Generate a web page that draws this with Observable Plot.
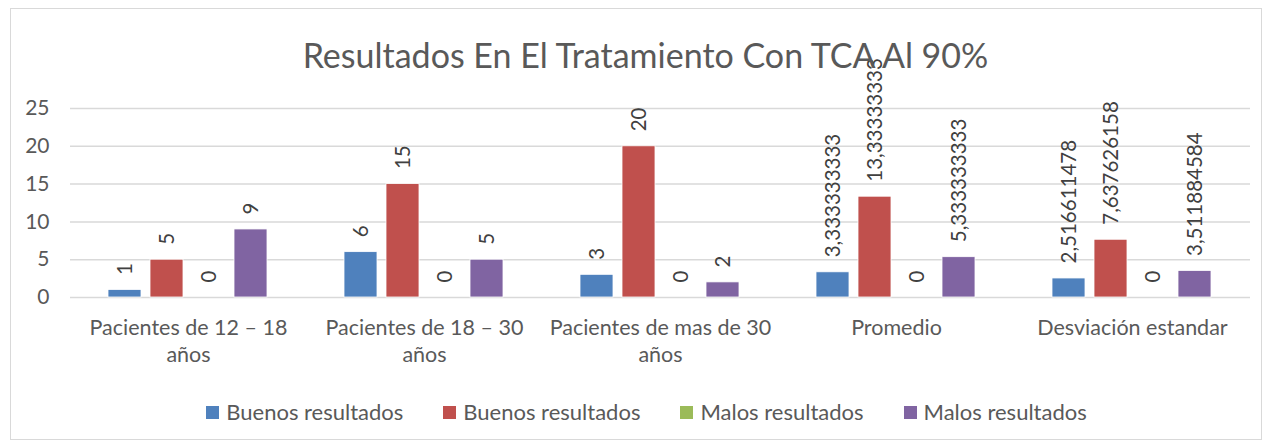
<!DOCTYPE html>
<html><head><meta charset="utf-8">
<script src="https://cdn.jsdelivr.net/npm/d3@7"></script>
<script src="https://cdn.jsdelivr.net/npm/@observablehq/plot@0.6"></script>
<style>
body{margin:0;background:#fff;font-family:Lato,"Open Sans",sans-serif;}
#wrap{position:relative;width:1267px;height:446px;overflow:hidden;background:#fff}
#frame{position:absolute;left:10px;top:8px;width:1250px;height:430px;border:1px solid #d9d9d9;}
#title{position:absolute;left:12px;width:1267px;top:35px;text-align:center;font-size:34px;color:#595959;line-height:40px}
#chart{position:absolute;left:0;top:30px}
#chart svg{overflow:visible}
#legend{position:absolute;left:13px;width:1267px;top:399px;display:flex;justify-content:center;gap:40px;font-size:22px;line-height:26px;color:#595959}
#legend .it{display:flex;align-items:center}
#legend .sw{width:13px;height:13px;margin-right:7px}
</style></head>
<body>
<div id="wrap">
  <div id="frame"></div>
  <div id="chart"></div>
  <div id="title"></div>
  <div id="legend"></div>
</div>
<script>
const titleText = "Resultados En El Tratamiento Con TCA Al 90%";
const categories = ["Pacientes de 12 – 18 años", "Pacientes de 18 – 30 años", "Pacientes de mas de 30 años", "Promedio", "Desviación estandar"];
const categoryLabels = ["Pacientes de 12 – 18\naños", "Pacientes de 18 – 30\naños", "Pacientes de mas de 30\naños", "Promedio", "Desviación estandar"];
const seriesIds = ["s1", "s2", "s3", "s4"];
const seriesNames = ["Buenos resultados", "Buenos resultados", "Malos resultados", "Malos resultados"];
const seriesColors = ["#4F81BD", "#C0504D", "#9BBB59", "#8064A2"];
const s1 = [1, 6, 3, 3.333333333, 2.516611478];
const s2 = [5, 15, 20, 13.33333333, 7.637626158];
const s3 = [0, 0, 0, 0, 0];
const s4 = [9, 5, 2, 5.333333333, 3.511884584];
const yTicks = [0, 5, 10, 15, 20, 25];

const seriesValues = [s1, s2, s3, s4];
const data = [];
categories.forEach((c, i) => {
  seriesIds.forEach((s, j) => data.push({category: c, series: s, value: seriesValues[j][i]}));
});
const fmt = v => String(v).replace(".", ",");
const labelOf = Object.fromEntries(categories.map((c, i) => [c, categoryLabels[i]]));

document.getElementById("title").textContent = titleText;

const chart = Plot.plot({
  width: 1267,
  height: 360,
  marginTop: 78,
  marginBottom: 93,
  marginLeft: 70,
  marginRight: 17,
  style: {fontFamily: "Lato, 'Open Sans', sans-serif", background: "transparent"},
  fx: {domain: categories, padding: 0, label: null},
  x: {domain: seriesIds, paddingInner: 0.21, paddingOuter: 0.85, axis: null},
  y: {domain: [0, 25], label: null},
  color: {domain: seriesIds, range: seriesColors},
  marks: [
    Plot.gridY(yTicks, {stroke: "#d9d9d9", strokeOpacity: 1, strokeWidth: 1.5}),
    Plot.axisY(yTicks, {tickSize: 0, tickPadding: 21, fontSize: 21, fill: "#595959", label: null}),
    Plot.axisFx({anchor: "bottom", tickSize: 0, tickPadding: 18, fontSize: 21.5, fill: "#595959", lineHeight: 1.26, label: null, tickFormat: d => labelOf[d]}),
    Plot.barY(data, {fx: "category", x: "series", y: "value", fill: "series", stroke: "white", strokeWidth: 0.8}),
    Plot.text(data, {fx: "category", x: "series", y: "value", text: d => fmt(d.value), rotate: -90, textAnchor: "start", dy: -15, fontSize: 20.5, fill: "#404040"})
  ]
});
document.getElementById("chart").appendChild(chart);

const legend = document.getElementById("legend");
seriesIds.forEach((s, i) => {
  const it = document.createElement("div"); it.className = "it";
  const sw = document.createElement("div"); sw.className = "sw"; sw.style.background = seriesColors[i];
  const tx = document.createElement("span"); tx.textContent = seriesNames[i];
  it.appendChild(sw); it.appendChild(tx); legend.appendChild(it);
});
</script>
</body></html>
